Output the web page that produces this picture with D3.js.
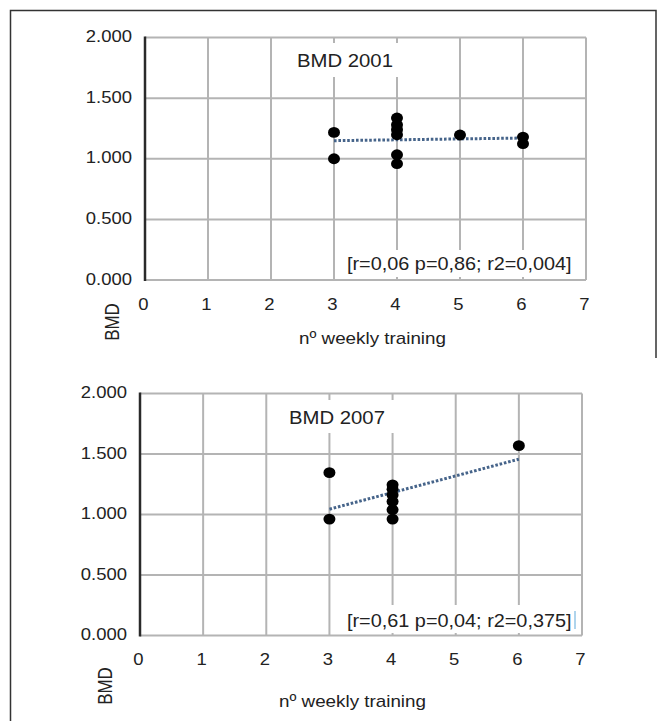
<!DOCTYPE html>
<html>
<head>
<meta charset="utf-8">
<script src="https://cdn.jsdelivr.net/npm/d3@7"></script>
<style>
  html, body { margin: 0; padding: 0; background: #fff; }
  svg { display: block; }
  text { font-family: "Liberation Sans", Arial, Helvetica, sans-serif; fill: #222; }
</style>
</head>
<body>
<svg id="chart" width="665" height="721"></svg>
<script>
// ---- data ----
const xTicks = [0, 1, 2, 3, 4, 5, 6, 7];
const yTicks = [0, 0.5, 1, 1.5, 2];
const yTickLabels = ["0.000", "0.500", "1.000", "1.500", "2.000"];
const xTitle = "nº weekly training";
const yTitle = "BMD";

const title2001 = "BMD 2001";
const stats2001 = "[r=0,06 p=0,86; r2=0,004]";
const x2001 = [3, 3, 4, 4, 4, 4, 4, 4, 5, 6, 6];
const y2001 = [1.217, 1.000, 1.336, 1.280, 1.240, 1.198, 1.033, 0.959, 1.196, 1.179, 1.124];
const trendX2001 = [3, 6];
const trendY2001 = [1.149, 1.171];

const title2007 = "BMD 2007";
const stats2007 = "[r=0,61 p=0,04; r2=0,375]";
const x2007 = [3, 3, 4, 4, 4, 4, 4, 4, 6];
const y2007 = [1.346, 0.962, 1.245, 1.209, 1.162, 1.107, 1.039, 0.962, 1.569];
const trendX2007 = [3, 6];
const trendY2007 = [1.044, 1.457];

// ---- drawing ----
const svg = d3.select("#chart");

// outer frame
svg.append("path")
  .attr("d", "M10.5,721 V10.5 H656 V358")
  .attr("fill", "none").attr("stroke", "#333").attr("stroke-width", 1.5);

function label(g, txt, x, y, size, anchor, sx) {
  return g.append("text")
    .attr("transform", `translate(${x},${y}) scale(${sx},1)`)
    .attr("text-anchor", anchor)
    .attr("font-size", size)
    .text(txt);
}

function panel(cfg) {
  const g = svg.append("g");
  const x = d3.scaleLinear().domain([0, 7]).range([cfg.left, cfg.right]);
  const y = d3.scaleLinear().domain([0, 2]).range([cfg.bottom, cfg.top]);

  // vertical gridlines
  g.selectAll(".vg").data(xTicks.filter(d => d > 0)).enter().append("line")
    .attr("x1", d => x(d)).attr("x2", d => x(d))
    .attr("y1", y(2)).attr("y2", y(0))
    .attr("stroke", "#b4b4b4").attr("stroke-width", 2);
  // horizontal gridlines
  g.selectAll(".hg").data(yTicks).enter().append("line")
    .attr("x1", x(0)).attr("x2", x(7))
    .attr("y1", d => y(d)).attr("y2", d => y(d))
    .attr("stroke", "#b4b4b4").attr("stroke-width", 2);

  // white boxes behind title & stats
  g.append("rect").attr("x", cfg.titleBox[0]).attr("y", cfg.titleBox[1])
    .attr("width", cfg.titleBox[2]).attr("height", cfg.titleBox[3]).attr("fill", "#fff");
  g.append("rect").attr("x", cfg.statBox[0]).attr("y", cfg.statBox[1])
    .attr("width", cfg.statBox[2]).attr("height", cfg.statBox[3]).attr("fill", "#fff");

  // left axis
  g.append("line")
    .attr("x1", x(0)).attr("x2", x(0)).attr("y1", y(2) - 1).attr("y2", y(0) + 1)
    .attr("stroke", "#2a2a2a").attr("stroke-width", 2.5);

  // y tick labels
  yTicks.forEach((d, i) => {
    label(g, yTickLabels[i], x(0) - 13, y(d) + 4.5, 16.5, "end", 1.12);
  });
  // x tick labels
  xTicks.forEach(d => {
    label(g, String(d), x(d) - 1.5, y(0) + 29.5, 16.5, "middle", 1.12);
  });

  // trend line
  const pts = cfg.tx.map((d, i) => [d, cfg.ty[i]]);
  g.append("path")
    .attr("d", d3.line().x(d => x(d[0])).y(d => y(d[1]))(pts))
    .attr("fill", "none").attr("stroke", "#46648a")
    .attr("stroke-width", 3).attr("stroke-dasharray", "2.6,1.8");

  // points
  g.selectAll(".pt").data(cfg.px.map((d, i) => [d, cfg.py[i]])).enter().append("ellipse")
    .attr("cx", d => x(d[0])).attr("cy", d => y(d[1]))
    .attr("rx", 6).attr("ry", 5.4).attr("fill", "#000");

  // title
  label(g, cfg.title, cfg.titlePos[0], cfg.titlePos[1], 19, "start", 1.07);
  // stats
  label(g, cfg.stats, cfg.statPos[0], cfg.statPos[1], 17.5, "start", 1.135);
  if (cfg.cursor) {
    g.append("line").attr("x1", cfg.cursor[0]).attr("x2", cfg.cursor[0])
      .attr("y1", cfg.cursor[1]).attr("y2", cfg.cursor[2])
      .attr("stroke", "#7ab8e0").attr("stroke-width", 1.2);
  }

  // axis titles
  label(g, xTitle, cfg.xTitlePos[0], cfg.xTitlePos[1], 17, "start", 1.107);
  g.append("text")
    .attr("transform", `translate(${cfg.yTitlePos[0]},${cfg.yTitlePos[1]}) scale(1.15,1) rotate(-90)`)
    .attr("text-anchor", "middle").attr("font-size", 17)
    .text(yTitle);
}

panel({
  left: 145, right: 586, top: 37.5, bottom: 280,
  px: x2001, py: y2001, tx: trendX2001, ty: trendY2001,
  title: title2001, titlePos: [297, 66.5], titleBox: [285, 43, 125, 34],
  stats: stats2001, statPos: [347, 270], statBox: [340, 250, 238, 27],
  xTitlePos: [299, 344], yTitlePos: [119, 322]
});

panel({
  left: 140, right: 582, top: 393.5, bottom: 635.5,
  px: x2007, py: y2007, tx: trendX2007, ty: trendY2007,
  title: title2007, titlePos: [289, 424], titleBox: [277, 400, 125, 33],
  stats: stats2007, statPos: [347, 626.5], statBox: [340, 605, 238, 28],
  cursor: [575, 611, 629],
  xTitlePos: [279, 707], yTitlePos: [111.5, 686]
});
</script>
</body>
</html>
